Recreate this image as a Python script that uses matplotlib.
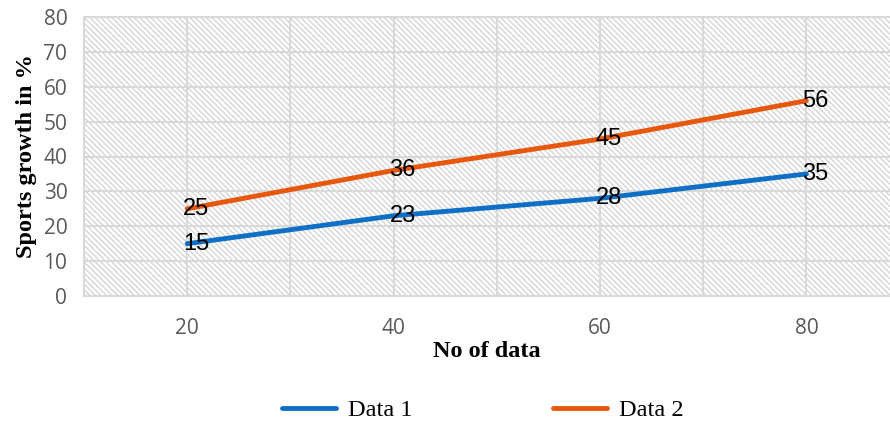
import numpy as np
import matplotlib.pyplot as plt
from matplotlib.patches import Rectangle

x_values = [20, 40, 60, 80]
data1 = [15, 23, 28, 35]
data2 = [25, 36, 45, 56]
y_ticks = [0, 10, 20, 30, 40, 50, 60, 70, 80]

grid_col = '#d9d9d9'
blue = '#0F6FC6'
orange = '#E8580C'

plt.rcParams['hatch.color'] = '#d2d2d2'
plt.rcParams['hatch.linewidth'] = 0.9

fig = plt.figure(figsize=(8.9, 4.21), dpi=100)
# plot area: x 84..890 px, y 17..296 px
ax = fig.add_axes([84/890, 1 - 296/421, (890 - 84)/890, (296 - 17)/421])

ax.add_patch(Rectangle((0, 0), 1, 1, transform=ax.transAxes, facecolor='white',
                       edgecolor='#d2d2d2', linewidth=0, hatch='\\' * 6, zorder=0))

ax.set_xlim(10, 88.1)
ax.set_ylim(0, 80)
ax.set_xticks(x_values)
ax.set_xticks(np.arange(10, 90, 10), minor=True)
ax.set_yticks(y_ticks)
ax.grid(True, which='both', color=grid_col, linewidth=1.5, zorder=1)
ax.tick_params(which='both', length=0)
ax.tick_params(axis='x', pad=16)
ax.tick_params(axis='y', pad=12)
for lab in ax.get_xticklabels() + ax.get_yticklabels():
    lab.set_fontfamily('Open Sans')
    lab.set_fontsize(15)
    lab.set_color('#595959')
for s in ax.spines.values():
    s.set_color(grid_col)
    s.set_linewidth(1.5)
ax.spines['right'].set_visible(False)

l1, = ax.plot(x_values, data1, color=blue, linewidth=3.5, solid_capstyle='round',
              label='Data 1', zorder=3)
l2, = ax.plot(x_values, data2, color=orange, linewidth=3.5, solid_capstyle='round',
              label='Data 2', zorder=3)

for xs, ys in [(x_values, data1), (x_values, data2)]:
    for xv, yv in zip(xs, ys):
        ax.annotate(str(yv), (xv, yv), xytext=(9, 0), textcoords='offset pixels',
                    ha='center', va='center', fontsize=17,
                    family='Liberation Sans', color='black', zorder=4)

ax.set_xlabel('No of data', family='Liberation Serif', fontweight='bold',
              fontsize=17.5, labelpad=1)
ax.set_ylabel('Sports growth in %', family='Liberation Serif', fontweight='bold',
              fontsize=17.5, labelpad=5)

fig.legend(handles=[l1, l2], loc='center', bbox_to_anchor=(483/890, 1 - 410/421),
           ncol=2, frameon=False, prop={'family': 'Liberation Serif', 'size': 17.5},
           handlelength=2.2, handletextpad=0.5, columnspacing=5.8)

fig.savefig('out.png', dpi=100)
